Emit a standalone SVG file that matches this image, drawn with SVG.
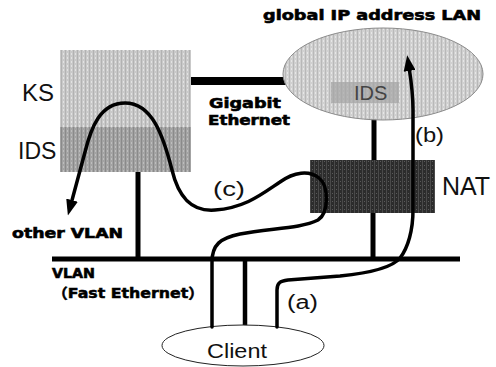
<svg xmlns="http://www.w3.org/2000/svg" width="496" height="367" viewBox="0 0 496 367">
  <style>
    .lbl { font-family: "Liberation Sans", Arial, sans-serif; fill: #111; }
    .bold { font-family: "DejaVu Sans", "Liberation Sans", sans-serif; font-weight: bold; fill: #000; stroke: #000; stroke-width: 0.6; }
    .cjk { font-family: "DejaVu Sans", "Noto Sans CJK JP", sans-serif; font-weight: bold; fill: #000; stroke: #000; stroke-width: 0.5; }
    .link { stroke: #000; stroke-width: 5; fill: none; }
    .route { stroke: #000; stroke-width: 3.5; fill: none; stroke-linecap: round; stroke-linejoin: round; }
  </style>
  <defs>
    <!-- halftone-like vertical striping for the shaded boxes -->
    <pattern id="lightTone" width="4" height="4" patternUnits="userSpaceOnUse">
      <rect width="4" height="4" fill="#c9c9c9"/>
      <rect x="1" width="1" height="4" fill="#b2b2b2"/>
      <rect x="3" y="1" width="1" height="2" fill="#e2e2e2"/>
    </pattern>
    <pattern id="midTone" width="4" height="4" patternUnits="userSpaceOnUse">
      <rect width="4" height="4" fill="#a3a3a3"/>
      <rect x="1" width="1" height="4" fill="#8a8a8a"/>
      <rect x="3" y="2" width="1" height="2" fill="#bdbdbd"/>
    </pattern>
    <pattern id="darkTone" width="4" height="4" patternUnits="userSpaceOnUse">
      <rect width="4" height="4" fill="#2c2c2c"/>
      <rect x="2" width="1" height="4" fill="#4a4a4a"/>
      <rect x="0" y="1" width="1" height="1" fill="#5a5a5a"/>
    </pattern>
    <pattern id="lanTone" width="4" height="4" patternUnits="userSpaceOnUse">
      <rect width="4" height="4" fill="#d0d0d0"/>
      <rect x="1" width="1" height="4" fill="#b8b8b8"/>
      <rect x="3" y="0" width="1" height="2" fill="#e6e6e6"/>
    </pattern>
    <marker id="arrow" viewBox="0 0 16 12" markerUnits="userSpaceOnUse" markerWidth="16" markerHeight="12" refX="4" refY="6" orient="auto">
      <path d="M0,0 L16,6 L0,12 z" fill="#000"/>
    </marker>
  </defs>

  <rect width="496" height="367" fill="#fff"/>

  <!-- physical links -->
  <g id="connectors">
    <line class="link" x1="190" y1="81" x2="290" y2="81" style="stroke-width:8"/>
    <line class="link" x1="52" y1="259" x2="460" y2="259"/>
    <line class="link" x1="138" y1="172" x2="138" y2="259"/>
    <line class="link" x1="374" y1="115" x2="374" y2="162"/>
    <line class="link" x1="373" y1="212" x2="373" y2="259"/>
    <line class="link" x1="245" y1="259" x2="245" y2="327" style="stroke-width:4.5"/>
  </g>

  <!-- KS with its IDS -->
  <g id="ks">
    <rect x="60" y="50" width="131" height="78" fill="url(#lightTone)"/>
    <rect x="60" y="127" width="131" height="45" fill="url(#midTone)"/>
    <text class="lbl" x="22" y="101" font-size="24">KS</text>
    <text class="lbl" x="18" y="159" font-size="23">IDS</text>
  </g>

  <!-- global IP address LAN with IDS -->
  <g id="global-lan">
    <ellipse cx="383" cy="74" rx="100" ry="46" fill="url(#lanTone)" stroke="#8a8a8a" stroke-width="1"/>
    <rect x="331" y="82" width="68" height="21" fill="#a4a4a4" opacity="0.7"/>
    <text class="lbl" x="354" y="100" font-size="20" style="fill:#444">IDS</text>
    <text class="bold" x="263" y="20" font-size="14" textLength="218" lengthAdjust="spacingAndGlyphs">global IP address LAN</text>
  </g>

  <!-- NAT -->
  <g id="nat">
    <rect x="310" y="160" width="125" height="53" fill="url(#darkTone)"/>
    <text class="lbl" x="442" y="195" font-size="25">NAT</text>
  </g>

  <!-- Client -->
  <g id="client">
    <ellipse cx="243" cy="345.5" rx="81" ry="20.5" fill="#fff" stroke="#222" stroke-width="1"/>
    <text class="lbl" x="207" y="358" font-size="21" textLength="60" lengthAdjust="spacingAndGlyphs">Client</text>
  </g>

  <!-- link and segment labels -->
  <g id="labels">
    <text class="bold" x="209" y="108" font-size="14" textLength="72" lengthAdjust="spacingAndGlyphs">Gigabit</text>
    <text class="bold" x="208" y="125" font-size="14" textLength="82" lengthAdjust="spacingAndGlyphs">Ethernet</text>
    <text class="bold" x="12" y="238" font-size="14" textLength="111" lengthAdjust="spacingAndGlyphs">other VLAN</text>
    <text class="bold" x="52" y="278" font-size="14" textLength="43" lengthAdjust="spacingAndGlyphs">VLAN</text>
    <text class="cjk" x="52" y="298" font-size="14" textLength="152" lengthAdjust="spacingAndGlyphs">（Fast Ethernet）</text>
    <text class="lbl" x="213" y="196" font-size="20" textLength="32" lengthAdjust="spacingAndGlyphs">(c)</text>
    <text class="lbl" x="415" y="142" font-size="21" textLength="29" lengthAdjust="spacingAndGlyphs">(b)</text>
    <text class="lbl" x="287" y="309" font-size="20" textLength="31" lengthAdjust="spacingAndGlyphs">(a)</text>
  </g>

  <!-- traffic routes -->
  <g id="routes">
    <!-- (c): client through NAT, back to KS IDS, out to other VLAN -->
    <path class="route" marker-end="url(#arrow)" d="M212,327 L212,262 C212,245 220,238 240,234 C268,228 300,229 318,220 C329,213 329,186 319,178 C309,170 294,172 280,182 C262,194 245,208 215,210 C190,212 178,195 172,170 C163,135 152,103 125,103 C100,103 91,128 85,152 L71,204"/>
    <!-- (a)+(b): client through NAT into the global LAN -->
    <path class="route" marker-end="url(#arrow)" d="M277,327 L277,290 C277,283 280,281 288,280 L340,276 C370,273 392,268 400,258 C408,248 413,230 413,210 L413,110 C413,92 411,80 409,67"/>
  </g>
</svg>
